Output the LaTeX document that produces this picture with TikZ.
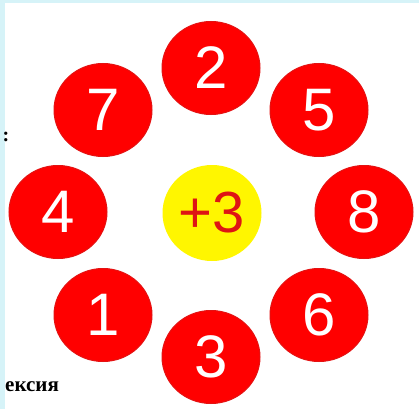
\documentclass[tikz,border=0pt]{standalone}
\usepackage{fontspec}
\setmainfont{Liberation Sans}
\newfontfamily\cyrserif{Liberation Serif}
\usetikzlibrary{shapes.geometric}
\definecolor{cBALL}{RGB}{255,0,0}
\definecolor{cRIM}{RGB}{228,18,18}
\definecolor{cSUN}{RGB}{255,246,0}
\definecolor{cSUNTXT}{RGB}{222,20,20}
\definecolor{cFRAME}{RGB}{214,243,248}

\begin{document}
\begin{tikzpicture}[x=1pt,y=-1pt,
  ball/.style={ellipse,fill=cBALL,draw=cRIM,line width=1pt,minimum width=98pt,minimum height=93pt,inner sep=0pt,text=white,font=\fontsize{60}{60}\selectfont},
  sun/.style={ellipse,fill=cSUN,minimum width=99pt,minimum height=96pt,inner sep=0pt,text=cSUNTXT,font=\fontsize{58}{58}\selectfont},
  scrap/.style={inner sep=0pt,font=\cyrserif\bfseries}]
\useasboundingbox (0,0) rectangle (419,409);
\fill[cFRAME] (0,0) rectangle (5,409);
\fill[cFRAME] (0,0) rectangle (419,3);
% centre
\node[sun] (mid) at (212,213) {+3};
% ring
\node[ball] (n2) at (211,68) {2};
\node[ball] (n5) at (319,110) {5};
\node[ball] (n8) at (364,212) {8};
\node[ball] (n6) at (319,315) {6};
\node[ball] (n3) at (211,357) {3};
\node[ball] (n1) at (103,315) {1};
\node[ball] (n4) at (58,212) {4};
\node[ball] (n7) at (103,110) {7};
% cut-off text on the left
\node[scrap,font=\cyrserif\bfseries\fontsize{20}{20}\selectfont] (dots) at (6,137) {:};
\node[scrap,anchor=base west,font=\cyrserif\bfseries\fontsize{21}{21}\selectfont] (word) at (5,391) {ексия};
\end{tikzpicture}
\end{document}
